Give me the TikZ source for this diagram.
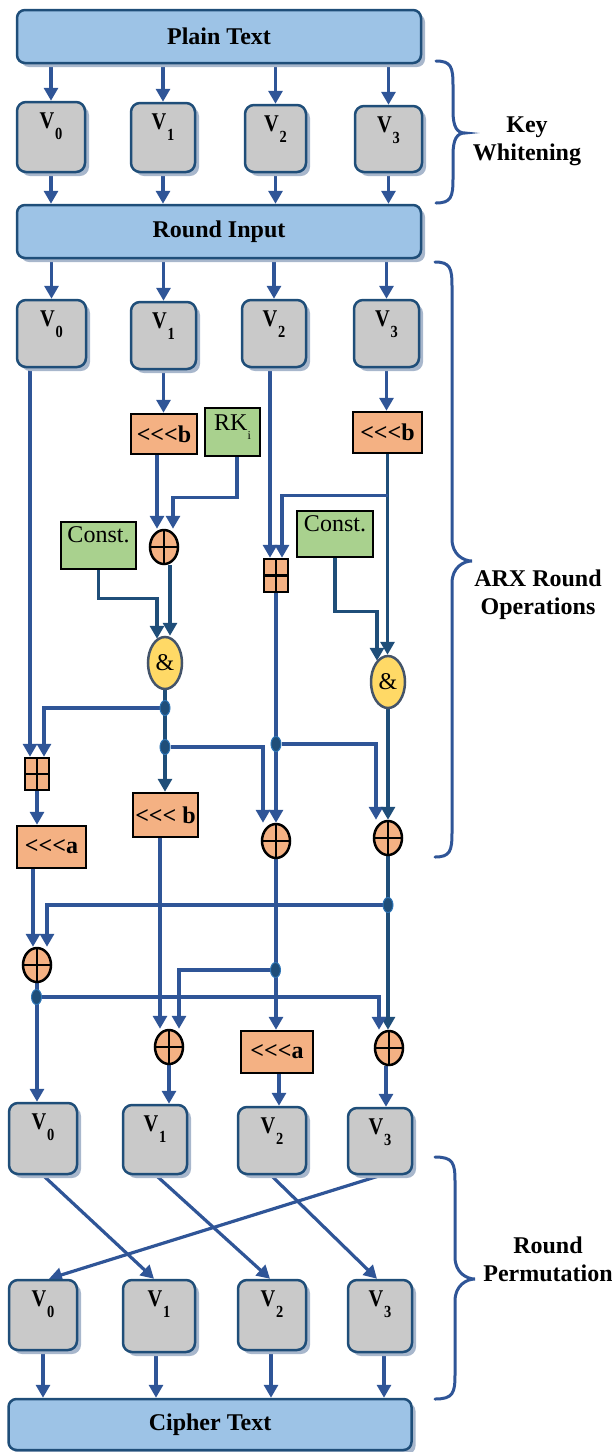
\documentclass[tikz,border=0pt]{standalone}
\usepackage{fontspec}
\setmainfont{Liberation Serif}[Ligatures=TeXOff]
\usetikzlibrary{arrows.meta,shapes.geometric,shadows,calc}
\definecolor{arrowblue}{HTML}{2F5597}
\definecolor{darkline}{HTML}{1F4E79}
\definecolor{boxborder}{HTML}{1F4E79}
\definecolor{lightbluefill}{HTML}{9DC3E6}
\definecolor{grayfill}{HTML}{C9C9C9}
\definecolor{shadowcol}{HTML}{A8B7CC}
\definecolor{orangefill}{HTML}{F4B183}
\definecolor{greenfill}{HTML}{A9D18E}
\definecolor{yellowfill}{HTML}{FFD966}
\definecolor{andborder}{HTML}{44546A}
\definecolor{dotfill}{HTML}{1F4E79}
\definecolor{dotborder}{HTML}{2E75B6}
\pgfdeclarelayer{bg}
\pgfsetlayers{bg,main}
\newcommand{\Vtext}[1]{\scalebox{0.85}[1]{\textbf{V}\hspace{1pt}\raisebox{-11pt}{\fontsize{17}{17}\selectfont\textbf{#1}}}}
\newcommand{\mybrace}[6]{%
  \draw[bracestyle] (#1,#4) .. controls ({#2-2},#4) and (#2,{#4+6}) .. (#2,{#4+24})
    -- (#2,{#5-22}) .. controls (#2,{#5-6}) and ({#3-8},#5) .. (#3,#5)
    .. controls ({#3-8},#5) and (#2,{#5+6}) .. (#2,{#5+22})
    -- (#2,{#6-24}) .. controls (#2,{#6-6}) and ({#2-2},#6) .. (#1,#6);}
\tikzset{
  shadowed/.style={drop shadow={shadow xshift=4pt,shadow yshift=-4pt,fill=shadowcol,opacity=1}},
  bluebox/.style={draw=boxborder,line width=2.5pt,fill=lightbluefill,rounded corners=8pt,shadowed,
    inner sep=0pt,font=\fontsize{24}{26}\selectfont\bfseries},
  vbox/.style={draw=boxborder,line width=2.5pt,fill=grayfill,rounded corners=9pt,shadowed,inner sep=0pt,
    label={[anchor=north,yshift=-12pt,inner sep=0pt,font=\fontsize{24}{24}\selectfont]north:{\Vtext{#1}}}},
  opbox/.style={draw=black,line width=2.5pt,fill=orangefill,inner sep=0pt,font=\fontsize{24}{26}\selectfont\bfseries},
  greenbox/.style={draw=black,line width=2.5pt,fill=greenfill,inner sep=0pt},
  crosspic/.style={path picture={\draw[black,line width=2.2pt]
      (path picture bounding box.north) -- (path picture bounding box.south)
      (path picture bounding box.west) -- (path picture bounding box.east);}},
  xorop/.style={ellipse,draw=black,line width=2.5pt,fill=orangefill,minimum width=28pt,minimum height=34pt,inner sep=0pt,crosspic},
  addop/.style={rectangle,draw=black,line width=2.5pt,fill=orangefill,minimum width=24pt,minimum height=33pt,inner sep=0pt,crosspic},
  andop/.style={ellipse,draw=andborder,line width=2.5pt,fill=yellowfill,minimum width=34pt,minimum height=52pt,inner sep=0pt,
    font=\fontsize{24}{24}\selectfont},
  jdot/.style={ellipse,draw=dotborder,line width=1pt,fill=dotfill,minimum width=10pt,minimum height=15pt,inner sep=0pt},
  arr/.style={draw=arrowblue,line width=3.2pt,-{Triangle[width=14pt,length=13pt]}},
  darr/.style={draw=darkline,line width=3.2pt,-{Triangle[width=14pt,length=13pt]}},
  bracestyle/.style={draw=arrowblue,line width=3pt,line cap=round},
  sidetext/.style={font=\fontsize{24}{28}\selectfont\bfseries,align=center}
}
\begin{document}
\begin{tikzpicture}[x=1pt,y=-1pt]
\useasboundingbox (0,0) rectangle (612,1452);
% top blocks
\node[bluebox,minimum width=404pt,minimum height=53pt] (PT) at (219,36.5) {Plain Text};
\node[vbox=0,minimum width=68pt,minimum height=70pt] (A0) at (51,137) {};
\node[vbox=1,minimum width=64pt,minimum height=69pt] (A1) at (163,137.5) {};
\node[vbox=2,minimum width=61pt,minimum height=67pt] (A2) at (275.5,138.5) {};
\node[vbox=3,minimum width=67pt,minimum height=66pt] (A3) at (388.5,139) {};
\node[bluebox,minimum width=404pt,minimum height=53pt] (RI) at (219,231.5) {Round Input};
% round input V's
\node[vbox=0,minimum width=69pt,minimum height=67pt] (B0) at (51.5,333.5) {};
\node[vbox=1,minimum width=65pt,minimum height=67pt] (B1) at (163.5,335.5) {};
\node[vbox=2,minimum width=64pt,minimum height=67pt] (B2) at (274,333.5) {};
\node[vbox=3,minimum width=65pt,minimum height=67pt] (B3) at (386.5,333.5) {};
% operations
\node[opbox,minimum width=66pt,minimum height=40pt] (RB1) at (164,434) {<<<b};
\node[greenbox,minimum width=55pt,minimum height=48pt,
  label={[anchor=north,yshift=-8pt,inner sep=0pt,font=\fontsize{24}{26}\selectfont]north:{RK\raisebox{-9pt}{\fontsize{12}{12}\selectfont i}}}] (RK) at (232.5,432) {};
\node[opbox,minimum width=69pt,minimum height=41pt] (RB3) at (387.5,432.5) {<<<b};
\node[xorop] (X1) at (164,547) {};
\node[greenbox,minimum width=75pt,minimum height=47pt,
  label={[anchor=north,yshift=-6pt,inner sep=0pt,font=\fontsize{24}{26}\selectfont]north:{Const.}}] (K1) at (98.5,545.5) {};
\node[greenbox,minimum width=76pt,minimum height=46pt,
  label={[anchor=north,yshift=-6pt,inner sep=0pt,font=\fontsize{24}{26}\selectfont]north:{Const.}}] (K2) at (335,534) {};
\node[addop] (HM) at (276,575.5) {};
\node[andop] (AL) at (165,663) {\&};
\node[andop] (AR) at (388,682) {\&};
\node[jdot] (J1) at (165,708) {};
\node[jdot] (J2) at (165,747) {};
\node[jdot] (J3) at (276,744) {};
\node[addop,minimum height=32pt] (HL) at (37,774) {};
\node[opbox,minimum width=65pt,minimum height=44pt] (RB2) at (165.5,815) {<<< b};
\node[xorop] (X3) at (276,841) {};
\node[xorop] (X4) at (388,838) {};
\node[opbox,minimum width=69pt,minimum height=42pt] (RA1) at (51.5,847) {<<<a};
\node[jdot] (J4) at (388,905) {};
\node[xorop] (X5) at (37,965) {};
\node[jdot] (J5) at (275.5,970) {};
\node[jdot] (J6) at (36.5,997) {};
\node[xorop] (X7) at (169,1047) {};
\node[opbox,minimum width=72pt,minimum height=42pt] (RA2) at (277,1052) {<<<a};
\node[xorop] (X6) at (389,1048) {};
% output rows
\node[vbox=0,minimum width=68pt,minimum height=71pt] (C0) at (43,1138.5) {};
\node[vbox=1,minimum width=64pt,minimum height=69pt] (C1) at (155,1139.5) {};
\node[vbox=2,minimum width=68pt,minimum height=67pt] (C2) at (272,1140.5) {};
\node[vbox=3,minimum width=64pt,minimum height=66pt] (C3) at (380,1141) {};
\node[vbox=0,minimum width=68pt,minimum height=70pt] (D0) at (43,1315) {};
\node[vbox=1,minimum width=72pt,minimum height=72pt] (D1) at (159,1316) {};
\node[vbox=2,minimum width=68pt,minimum height=70pt] (D2) at (272,1315) {};
\node[vbox=3,minimum width=64pt,minimum height=72pt] (D3) at (380,1316) {};
\node[bluebox,minimum width=403pt,minimum height=51pt] (CT) at (210,1424.5) {Cipher Text};
% side labels
\node[sidetext] (KWt) at (527,141) {Key\\Whitening};
\node[sidetext] (ARXt) at (538,595) {ARX Round\\Operations};
\node[sidetext] (RPt) at (548,1259) {Round\\Permutation};
\mybrace{436}{453}{465}{61}{133}{203}
\mybrace{435}{452}{472}{262}{561}{857}
\mybrace{435}{455}{475}{1157}{1279}{1399}
\begin{pgfonlayer}{bg}
% key whitening
\foreach \n in {0,1,2,3} {
  \draw[arr] (PT.south -| A\n.north) -- (A\n.north);
  \draw[arr] (A\n.south) -- (RI.north -| A\n.south);
  \draw[arr] (RI.south -| B\n.north) -- (B\n.north);
}
% round operations
\draw[arr] ([xshift=-21.5pt]B0.south) -- ([xshift=-21.5pt]B0.south |- HL.north);
\draw[arr] (B1.south) -- (B1.south |- RB1.north);
\draw[arr] (B3.south) -- (B3.south |- RB3.north);
\draw[arr] ([xshift=-4pt]B2.south) -- ([xshift=-4pt]B2.south |- HM.north);
\draw[arr] ([xshift=-7pt]RB1.south) -- ([xshift=-7pt]RB1.south |- X1.north);
\draw[arr] ([xshift=4.5pt]RK.south) -- ++(0,40) -| ([xshift=9pt]X1.north);
\draw[darr] ([xshift=6pt]X1.south) -- ([xshift=5pt]AL.north);
\draw[darr] (K1.south) -- ++(0,28) -| ([xshift=-8pt,yshift=-3pt]AL.north);
\draw[darr] (RB3.south) -- (RB3.south |- AR.north);
\draw[arr] ([yshift=-41pt]RB3.south) -| ([xshift=6pt]HM.north);
\draw[darr] (K2.south) -- ++(0,53) -| ([xshift=-11pt,yshift=-6pt]AR.north);
\draw[darr] (AL.south) -- (AL.south |- RB2.north);
\draw[arr] (J1.west) -| ([xshift=7pt]HL.north);
\draw[arr] (J2.east) -| ([xshift=-13pt]X3.north);
\draw[arr] (HM.south) -- (X3.north);
\draw[arr] (J3.east) -| ([xshift=-12pt]X4.north);
\draw[darr] (AR.south) -- (X4.north);
\draw[arr] (HL.south) -- (HL.south |- RA1.north);
\draw[arr] ([xshift=-5.5pt]RB2.south) -- ([xshift=-5.5pt]RB2.south |- X7.north);
\draw[arr] ([xshift=-18.5pt]RA1.south) -- ([xshift=-18.5pt]RA1.south |- X5.north);
\draw[arr] (X3.south) -- (X3.south |- RA2.north);
\draw[darr] (X4.south) -- (X4.south |- X6.north);
\draw[arr] (J4.west) -| ([xshift=10pt]X5.north);
\draw[arr] (J5.west) -| ([xshift=10pt]X7.north);
\draw[arr] (X5.south) -- (X5.south |- C0.north);
\draw[arr] (J6.east) -| ([xshift=-10pt]X6.north);
\draw[arr] (X7.south) -- (X7.south |- C1.north);
\draw[arr] ([xshift=2pt]RA2.south) -- ([xshift=2pt]RA2.south |- C2.north);
\draw[arr] ([xshift=-3pt]X6.south) -- ([xshift=-3pt]X6.south |- C3.north);
% permutation
\draw[arr] (C0.south) -- ([xshift=-5pt]D1.north);
\draw[arr] ([xshift=1pt]C1.south) -- ([xshift=-2pt]D2.north);
\draw[arr] ([xshift=-1pt]C2.south) -- ([xshift=-3pt]D3.north);
\draw[arr] ([xshift=1pt]C3.south) -- ([xshift=6pt]D0.north);
\draw[arr] (D0.south) -- (D0.south |- CT.north);
\draw[arr] ([xshift=-3pt]D1.south) -- ([xshift=-3pt]D1.south |- CT.north);
\draw[arr] ([xshift=-1pt]D2.south) -- ([xshift=-1pt]D2.south |- CT.north);
\draw[arr] ([xshift=4pt]D3.south) -- ([xshift=4pt]D3.south |- CT.north);
\end{pgfonlayer}
\end{tikzpicture}
\end{document}
